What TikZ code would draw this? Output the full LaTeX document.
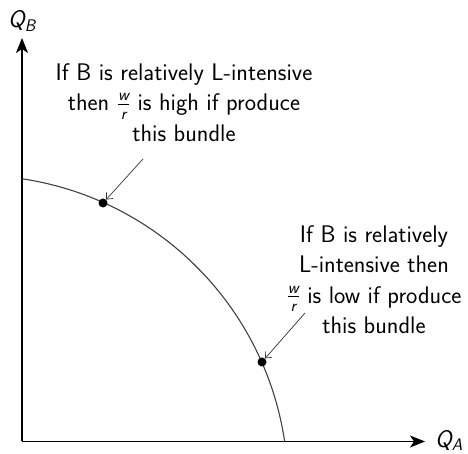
\documentclass[tikz,border=0pt]{standalone}
\usepackage{amsmath}
\usetikzlibrary{arrows.meta}
\renewcommand{\familydefault}{\sfdefault}
\newcommand{\vq}[1]{\textsf{\itshape #1}}
\begin{document}
\begin{tikzpicture}[x=1pt,y=1pt,
  axis/.style={line width=1.3pt,-{Stealth[length=15pt,width=12pt,inset=4pt]}},
  frontier/.style={line width=1.1pt,draw=black!75},
  pointer/.style={line width=0.7pt,draw=black!80,-{Straight Barb[length=5pt,width=9pt]}},
  bundle/.style={circle,fill=black,inner sep=0pt,minimum size=9pt},
  lbl/.style={font=\fontsize{24}{30.5}\selectfont\sffamily,inner sep=0pt},
  note/.style={lbl,align=center}]
\useasboundingbox (0,0) rectangle (468,454);
\coordinate (O) at (22,12.5);
\coordinate (Ytip) at (22,416);
\coordinate (Xtip) at (425,12.5);
\coordinate (C) at (-24.3,-33.7);
\draw[axis] (O) -- (Ytip);
\draw[axis] (O) -- (Xtip);
\node[lbl,anchor=base] (qb) at (22,426) {$\vq{Q}_{\vq{B}}$};
\node[lbl,anchor=west] (qa) at (435,13.5) {$\vq{Q}_{\vq{A}}$};
\draw[frontier] (C) ++(81.47:312.4) arc[start angle=81.47,end angle=8.5,radius=312.4];
\node[bundle] (d1) at (103,251) {};
\node[bundle] (d2) at (262,92) {};
\node[note,anchor=north] (t1) at (184,391) {If B is relatively L-intensive\\then $\frac{\vq{w}}{\vq{r}}$ is high if produce\\this bundle};
\node[note,anchor=north] (t2) at (374,229) {If B is relatively\\L-intensive then\\$\frac{\vq{w}}{\vq{r}}$ is low if produce\\this bundle};
\coordinate (a1) at (143,295);
\coordinate (a2) at (305,141);
\draw[pointer] (a1) -- (d1);
\draw[pointer] (a2) -- (d2);
\end{tikzpicture}
\end{document}
